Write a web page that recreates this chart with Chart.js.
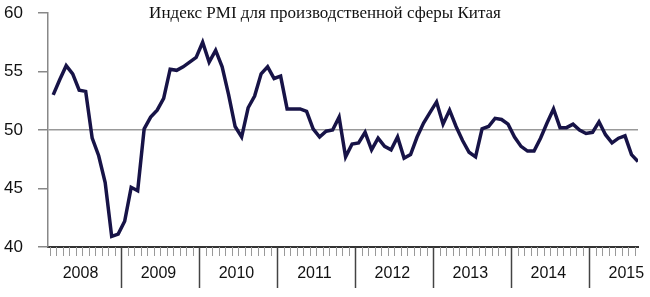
<!DOCTYPE html>
<html>
<head>
<meta charset="utf-8">
<script src="https://cdn.jsdelivr.net/npm/chart.js@4.4.0/dist/chart.umd.min.js"></script>
<style>
    html, body { margin: 0; padding: 0; background: #fff; }
    #wrap { position: relative; width: 650px; height: 297px; }
    #title {
        position: absolute; left: 0; top: 4px; width: 650px;
        text-align: center; font-family: "Liberation Serif", "Times New Roman", serif;
        font-size: 17px; line-height: 17px; color: #111;
    }
</style>
</head>
<body>
<div id="wrap">
    <canvas id="pmiChart" width="650" height="297"></canvas>
    <div id="title">Индекс PMI для производственной сферы Китая</div>
</div>
<script>
// Индекс PMI, помесячно (2008 начинается с февраля)
const pmi2008 = [53.0, 54.3, 55.5, 54.8, 53.4, 53.3, 49.3, 47.8, 45.5, 40.9, 41.1];
const pmi2009 = [42.2, 45.1, 44.8, 50.1, 51.1, 51.7, 52.7, 55.2, 55.1, 55.4, 55.8, 56.2];
const pmi2010 = [57.5, 55.8, 56.8, 55.4, 53.0, 50.3, 49.4, 51.9, 52.9, 54.8, 55.4, 54.4];
const pmi2011 = [54.6, 51.8, 51.8, 51.8, 51.6, 50.1, 49.4, 49.9, 50.0, 51.1, 47.7, 48.8];
const pmi2012 = [48.9, 49.8, 48.3, 49.3, 48.6, 48.3, 49.4, 47.6, 47.9, 49.4, 50.6, 51.5];
const pmi2013 = [52.4, 50.5, 51.7, 50.3, 49.1, 48.1, 47.7, 50.1, 50.3, 51.0, 50.9, 50.5];
const pmi2014 = [49.4, 48.6, 48.2, 48.2, 49.3, 50.6, 51.8, 50.2, 50.2, 50.5, 50.0, 49.7];
const pmi2015 = [49.8, 50.7, 49.6, 48.9, 49.3, 49.5, 47.9, 47.3];

const yearLabels = ['2008', '2009', '2010', '2011', '2012', '2013', '2014', '2015'];
const yTicks = [40, 45, 50, 55, 60];

// месяц 0 = январь 2008
const firstMonth = 1;
const pmiValues = [].concat(pmi2008, pmi2009, pmi2010, pmi2011, pmi2012, pmi2013, pmi2014, pmi2015);
const points = pmiValues.map((v, i) => ({ x: firstMonth + i, y: v }));
const lastMonth = firstMonth + pmiValues.length - 1;

// штрихи по месяцам и разделители годов
const monthTicks = {
    id: 'monthTicks',
    afterDraw(chart) {
        const xs = chart.scales.x;
        const ctx = chart.ctx;
        const bottom = chart.chartArea.bottom;
        ctx.save();
        for (let m = 0; m <= lastMonth + 1; m++) {
            const v = m - 0.5;
            if (v < xs.min || v > xs.max) continue;
            const px = Math.round(xs.getPixelForValue(v)) + 0.5;
            ctx.beginPath();
            if (m % 12 === 0) {
                ctx.strokeStyle = '#444';
                ctx.lineWidth = 1.5;
                ctx.moveTo(px, bottom);
                ctx.lineTo(px, bottom + 41);
            } else {
                ctx.strokeStyle = '#999';
                ctx.lineWidth = 1;
                ctx.moveTo(px, bottom);
                ctx.lineTo(px, bottom + 9);
            }
            ctx.stroke();
        }
        ctx.restore();
    }
};

new Chart(document.getElementById('pmiChart'), {
    type: 'line',
    data: {
        datasets: [{
            data: points,
            borderColor: '#171347',
            borderWidth: 3.5,
            pointRadius: 0,
            tension: 0,
            borderJoinStyle: 'miter'
        }]
    },
    options: {
        responsive: false,
        animation: false,
        layout: { padding: { top: 13, right: 12, left: 0, bottom: 0 } },
        plugins: { legend: { display: false }, tooltip: { enabled: false }, title: { display: false } },
        scales: {
            x: {
                type: 'linear',
                min: 0.2,
                max: lastMonth,
                afterFit: (s) => { s.height = 50; s.paddingLeft = 0; s.paddingRight = 0; },
                afterBuildTicks: (s) => {
                    s.ticks = yearLabels.map((y, k) => ({ value: 12 * k + 5.2 }));
                },
                grid: { display: false },
                border: { display: true, color: '#333', width: 2 },
                ticks: {
                    autoSkip: false,
                    maxRotation: 0,
                    padding: 9,
                    color: '#111',
                    font: { family: 'Liberation Sans, Arial, sans-serif', size: 16 },
                    callback: (val) => yearLabels[Math.floor(val / 12)]
                }
            },
            y: {
                min: 40,
                max: 60,
                afterFit: (s) => { s.width = 48; s.paddingTop = 0; s.paddingBottom = 0; },
                afterBuildTicks: (s) => { s.ticks = yTicks.map(v => ({ value: v })); },
                grid: {
                    color: (c) => c.tick && c.tick.value === 50 ? '#999' : 'rgba(0,0,0,0)',
                    lineWidth: 1.5,
                    tickColor: '#888',
                    tickLength: 10
                },
                border: { display: true, color: '#888', width: 1.5 },
                ticks: {
                    padding: 15,
                    color: '#111',
                    font: { family: 'Liberation Sans, Arial, sans-serif', size: 17 }
                }
            }
        }
    },
    plugins: [monthTicks]
});
</script>
</body>
</html>
